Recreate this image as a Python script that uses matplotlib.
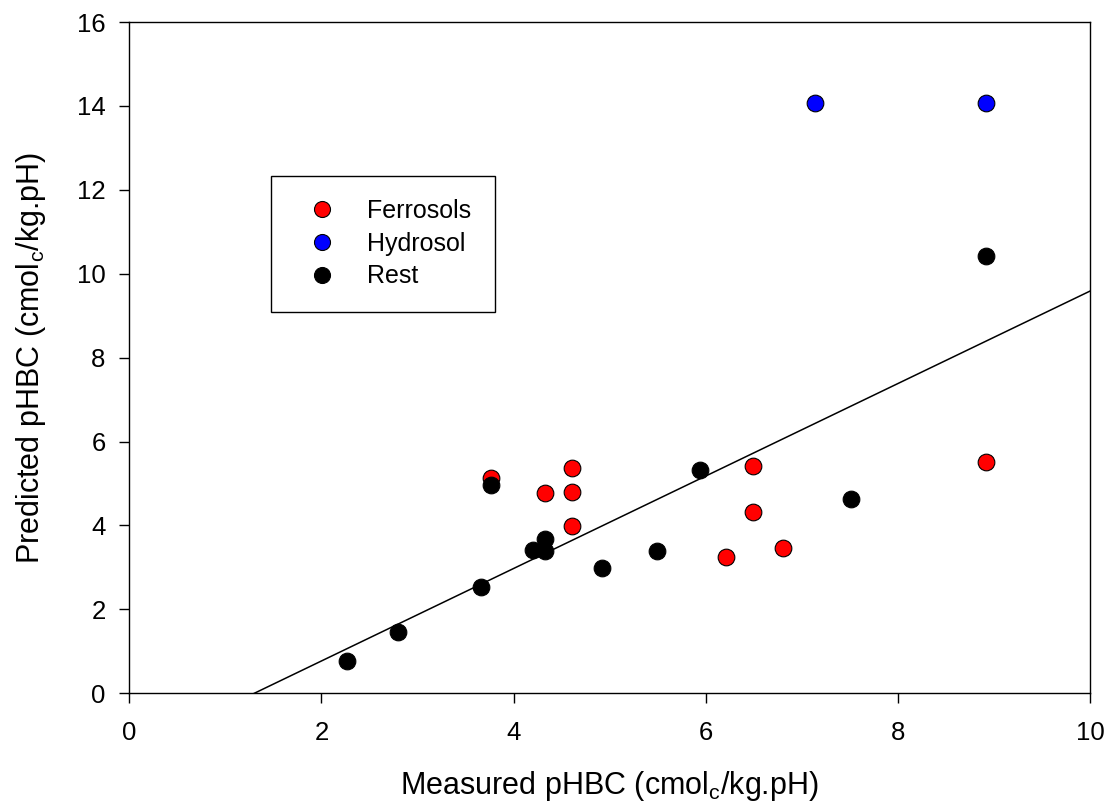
import matplotlib
matplotlib.use("Agg")
import matplotlib.pyplot as plt
import numpy as np

plt.rcParams['font.family'] = ['Liberation Sans', 'DejaVu Sans']
plt.rcParams['mathtext.fontset'] = 'custom'
plt.rcParams['mathtext.rm'] = 'Liberation Sans'
plt.rcParams['mathtext.it'] = 'Liberation Sans'

# Data
ferro_x = [3.76, 4.33, 4.61, 4.61, 4.61, 6.49, 6.49, 6.21, 6.80, 8.92]
ferro_y = [5.14, 4.77, 5.38, 4.79, 3.98, 5.42, 4.31, 3.26, 3.47, 5.51]
hydro_x = [7.14, 8.92]
hydro_y = [14.08, 14.06]
rest_x = [2.27, 2.80, 3.66, 3.76, 4.20, 4.33, 4.33, 4.92, 5.49, 5.94, 7.51, 8.92]
rest_y = [0.77, 1.47, 2.54, 4.96, 3.42, 3.67, 3.39, 2.98, 3.39, 5.32, 4.63, 10.42]

fit_slope = 1.102
fit_intercept = -1.433
fit_x_range = [1.30, 10.0]

x_ticks = [0, 2, 4, 6, 8, 10]
y_ticks = [0, 2, 4, 6, 8, 10, 12, 14, 16]

fig = plt.figure(figsize=(11.09, 8.09), dpi=100)
ax = fig.add_axes([0.1166, 0.1430, 0.9829 - 0.1166, 0.9728 - 0.1430])

fx = np.array(fit_x_range)
ax.plot(fx, fit_slope * fx + fit_intercept, color='black', lw=1.1, zorder=2)

mk = dict(marker='o', linestyle='none', markersize=12, markeredgecolor='black',
          markeredgewidth=0.8, zorder=3)
ax.plot(ferro_x, ferro_y, markerfacecolor='#ff0000', label='Ferrosols', **mk)
ax.plot(hydro_x, hydro_y, markerfacecolor='#0000ff', label='Hydrosol', **mk)
ax.plot(rest_x, rest_y, markerfacecolor='black', label='Rest', **mk)

ax.set_xlim(0, 10)
ax.set_ylim(0, 16)
ax.set_xticks(x_ticks)
ax.set_yticks(y_ticks)
ax.tick_params(axis='both', direction='out', length=7, width=1, labelsize=18.5)
ax.tick_params(axis='x', pad=13)
ax.tick_params(axis='y', pad=10)
for s in ax.spines.values():
    s.set_linewidth(1)

ax.set_xlabel(r'Measured pHBC (cmol$_\mathrm{c}$/kg.pH)', fontsize=22, labelpad=17)
ax.set_ylabel(r'Predicted pHBC (cmol$_\mathrm{c}$/kg.pH)', fontsize=22, labelpad=21)

leg = ax.legend(loc='upper left', bbox_to_anchor=(0.1475, 0.771), fontsize=18,
                frameon=True, fancybox=False, edgecolor='black', framealpha=1,
                borderpad=0.93, handlelength=2.2, handletextpad=0.72,
                labelspacing=0.35, markerscale=0.96, borderaxespad=0)
leg.get_frame().set_linewidth(1)

fig.savefig('out.png', dpi=100)
